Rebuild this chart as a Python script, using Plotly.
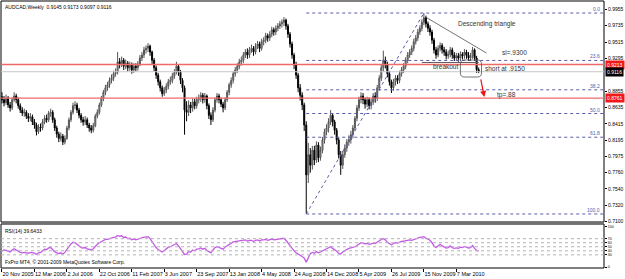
import plotly.graph_objects as go

# ---------------- data (weekly AUDCAD) ----------------
closes = [
    .874, .870, .876, .867, .863, .874, .879, .874, .866, .860,
    .856, .857, .852, .849, .851, .844, .840, .831, .837, .836,
    .844, .849, .847, .856, .857, .847, .836, .828, .822, .825,
    .817, .822, .836, .847, .857, .866, .867, .860, .853, .847,
    .844, .847, .840, .836, .833, .839, .852, .857, .867, .876,
    .884, .890, .894, .900, .903, .909, .911, .925, .922, .927,
    .919, .923, .917, .921, .914, .919, .917, .922, .930, .934,
    .941, .943, .946, .938, .927, .917, .907, .898, .890, .882,
    .887, .892, .898, .900, .906, .911, .919, .911, .900, .890,
    .860, .857, .867, .863, .871, .866, .874, .876, .880, .874,
    .879, .866, .853, .847, .860, .874, .879, .874, .868, .863,
    .874, .884, .894, .900, .909, .914, .919, .925, .927, .934,
    .938, .934, .941, .943, .938, .946, .949, .943, .952, .954,
    .960, .957, .962, .968, .965, .970, .973, .976, .978, .981,
    .973, .962, .949, .934, .921, .907, .890, .880, .867, .840,
    .773, .800, .786, .806, .793, .813, .796, .806, .820, .831,
    .836, .844, .853, .844, .833, .820, .800, .786, .800, .809,
    .817, .820, .827, .836, .849, .863, .874, .879, .874, .868,
    .874, .866, .871, .879, .876, .890, .903, .917, .927, .922,
    .909, .898, .890, .898, .903, .900, .909, .914, .919, .927,
    .934, .938, .943, .952, .957, .965, .970, .978, .984, .976,
    .970, .965, .954, .941, .934, .943, .947, .941, .938, .933,
    .935, .941, .934, .930, .933, .930, .935, .933, .938, .934,
    .930, .933, .941, .930, .9145, .9116,
]
highs = [
    .884, .879, .881, .879, .871, .877, .884, .882, .877, .869,
    .864, .862, .860, .856, .856, .854, .848, .843, .841, .842,
    .848, .853, .854, .859, .862, .860, .850, .839, .831, .830,
    .828, .826, .839, .850, .860, .870, .872, .870, .863, .856,
    .851, .852, .850, .843, .840, .843, .855, .861, .870, .879,
    .887, .894, .898, .904, .908, .913, .916, .938, .930, .932,
    .930, .928, .926, .925, .924, .923, .923, .926, .934, .938,
    .945, .947, .950, .948, .940, .930, .920, .910, .901, .893,
    .891, .896, .902, .905, .910, .915, .925, .922, .914, .903,
    .893, .872, .873, .871, .876, .875, .878, .881, .884, .883,
    .883, .881, .869, .857, .864, .877, .883, .882, .877, .871,
    .877, .887, .897, .904, .912, .918, .923, .929, .932, .938,
    .942, .943, .945, .948, .946, .950, .953, .952, .956, .958,
    .964, .963, .966, .972, .971, .974, .977, .980, .982, .985,
    .983, .976, .965, .952, .937, .925, .910, .895, .884, .870,
    .845, .816, .809, .812, .812, .818, .817, .811, .824, .835,
    .841, .849, .860, .856, .847, .836, .823, .805, .805, .814,
    .821, .826, .832, .840, .852, .867, .878, .884, .883, .877,
    .878, .877, .875, .883, .884, .894, .907, .921, .940, .932,
    .925, .912, .901, .902, .907, .907, .913, .918, .923, .931,
    .938, .942, .947, .956, .961, .969, .974, .982, .9905, .987,
    .979, .974, .968, .957, .945, .947, .951, .950, .945, .942,
    .940, .945, .944, .938, .937, .937, .939, .938, .942, .941,
    .938, .937, .945, .943, .933, .9173,
]
lows = [
    .869, .865, .867, .863, .858, .860, .871, .869, .862, .856,
    .852, .851, .848, .844, .845, .840, .835, .826, .828, .831,
    .833, .841, .843, .844, .851, .843, .832, .823, .817, .818,
    .813, .814, .820, .833, .844, .854, .861, .856, .849, .843,
    .839, .840, .836, .831, .829, .830, .837, .849, .854, .864,
    .872, .880, .886, .890, .896, .899, .905, .908, .916, .918,
    .914, .915, .912, .913, .909, .910, .912, .913, .919, .926,
    .930, .936, .938, .933, .922, .912, .902, .893, .885, .878,
    .879, .883, .888, .894, .896, .902, .908, .906, .895, .884,
    .827, .845, .852, .856, .858, .861, .862, .869, .871, .869,
    .870, .861, .848, .840, .844, .857, .870, .869, .864, .857,
    .860, .871, .880, .890, .896, .905, .910, .915, .920, .923,
    .930, .929, .930, .937, .933, .935, .942, .938, .940, .947,
    .950, .952, .953, .958, .960, .961, .966, .969, .971, .973,
    .968, .957, .944, .929, .915, .902, .884, .873, .860, .832,
    .7204, .762, .776, .780, .786, .789, .790, .792, .802, .815,
    .826, .830, .840, .838, .827, .814, .795, .773, .781, .796,
    .804, .812, .815, .822, .832, .845, .859, .869, .868, .862,
    .864, .861, .861, .867, .870, .872, .886, .899, .912, .916,
    .904, .893, .883, .886, .893, .895, .896, .905, .910, .915,
    .923, .930, .934, .939, .948, .953, .961, .966, .974, .971,
    .965, .960, .949, .936, .929, .931, .939, .936, .933, .928,
    .929, .931, .929, .926, .926, .925, .926, .928, .929, .929,
    .926, .926, .929, .926, .910, .9097,
]
first_open = 0.878
rsi = [
    40, 42, 41, 38, 37, 42, 45, 42, 38, 36,
    35, 36, 35, 34, 36, 35, 34, 31, 35, 36,
    40, 44, 43, 47, 48, 42, 38, 35, 33, 35,
    32, 36, 44, 52, 57, 61, 60, 56, 52, 48,
    47, 48, 45, 43, 42, 45, 52, 56, 60, 63,
    66, 68, 68, 70, 71, 73, 74, 78, 76, 77,
    73, 74, 70, 71, 67, 69, 67, 69, 71, 72,
    74, 74, 75, 70, 62, 55, 48, 43, 40, 37,
    41, 45, 49, 50, 53, 55, 58, 52, 45, 40,
    31, 32, 38, 37, 42, 40, 44, 45, 47, 44,
    46, 41, 37, 35, 42, 48, 50, 48, 46, 44,
    49, 53, 57, 59, 62, 63, 64, 65, 65, 66,
    67, 64, 66, 66, 63, 66, 67, 64, 67, 67,
    68, 66, 68, 69, 67, 68, 69, 70, 70, 71,
    66, 59, 52, 45, 40, 35, 31, 29, 26, 22,
    12, 25, 33, 36, 34, 38, 35, 37, 40, 43,
    44, 47, 50, 46, 43, 39, 34, 32, 37, 40,
    45, 46, 47, 48, 50, 53, 56, 60, 59, 57,
    58, 56, 57, 59, 58, 62, 65, 68, 70, 67,
    61, 57, 55, 58, 60, 59, 62, 63, 64, 65,
    66, 67, 66, 68, 69, 72, 73, 74, 75, 71,
    68, 66, 60, 52, 48, 53, 56, 52, 50, 47,
    48, 52, 48, 46, 47, 46, 49, 48, 51, 49,
    47, 48, 53, 46, 41, 39.6433,
]
tick_dates = ["20 Nov 2005", "12 Mar 2006", "2 Jul 2006", "22 Oct 2006", "11 Feb 2007",
              "3 Jun 2007", "23 Sep 2007", "13 Jan 2008", "4 May 2008", "24 Aug 2008",
              "14 Dec 2008", "5 Apr 2009", "26 Jul 2009", "15 Nov 2009", "7 Mar 2010"]
weeks_per_label = 16
price_ticks = [0.9955, 0.9735, 0.9515, 0.9295, 0.8855, 0.8635, 0.8415,
               0.8195, 0.7975, 0.7760, 0.7540, 0.7320, 0.7100]
rsi_ticks = [0, 30, 40, 50, 60, 70, 100]
rsi_levels = [30, 40, 50, 60, 70]
fib_ratios = [0.0, 0.236, 0.382, 0.5, 0.618, 1.0]
fib_labels = ["0.0", "23.6", "38.2", "50.0", "61.8", "100.0"]
red_levels = [0.9213, 0.8761]
bar = dict(o=0.9145, h=0.9173, l=0.9097, c=0.9116)

weeks = list(range(len(closes)))
opens = [first_open] + closes[:-1]
last_close = closes[-1]
fib_high = max(highs); hi_idx = highs.index(fib_high)
fib_low = min(lows); lo_idx = lows.index(fib_low)

X0, X1 = -0.49, 296.8
FONT = "Liberation Sans"
FIBC = "#5a5aa8"
REDC = "#f06a6a"

fig = go.Figure()
fig.add_trace(go.Candlestick(
    x=weeks, open=opens, high=highs, low=lows, close=closes,
    increasing=dict(line=dict(color="#555555", width=1), fillcolor="#a8a8a8"),
    decreasing=dict(line=dict(color="#000000", width=1), fillcolor="#000000"),
    whiskerwidth=0, xaxis="x", yaxis="y", showlegend=False, hoverinfo="skip"))
fig.add_trace(go.Scatter(x=weeks, y=rsi, mode="lines", xaxis="x", yaxis="y2",
                         line=dict(color="#c35ae6", width=1.3), showlegend=False,
                         hoverinfo="skip"))

shapes = []
# panel frames
shapes.append(dict(type="rect", xref="paper", yref="y domain", x0=0, x1=1, y0=0, y1=1,
                   line=dict(color="#000000", width=1)))
shapes.append(dict(type="rect", xref="paper", yref="y2 domain", x0=0, x1=1, y0=0, y1=1,
                   line=dict(color="#000000", width=1)))
shapes.append(dict(type="line", xref="paper", yref="paper", x0=0, x1=1, y0=0.1685, y1=0.1685,
                   line=dict(color="#707070", width=2.5)))
# red horizontal lines and current price line
for lv in red_levels:
    shapes.append(dict(type="line", xref="paper", yref="y", x0=0, x1=1, y0=lv, y1=lv,
                       line=dict(color=REDC, width=1.3)))
shapes.append(dict(type="line", xref="paper", yref="y", x0=0, x1=1, y0=last_close, y1=last_close,
                   line=dict(color="#c8c8c8", width=1)))
# fibonacci
for r in fib_ratios:
    lv = fib_high - r * (fib_high - fib_low)
    shapes.append(dict(type="line", xref="x", yref="y", x0=lo_idx, x1=X1, y0=lv, y1=lv,
                       line=dict(color=FIBC, width=1, dash="dot")))
shapes.append(dict(type="line", xref="x", yref="y", x0=lo_idx, x1=hi_idx, y0=fib_low, y1=fib_high,
                   line=dict(color=FIBC, width=1, dash="dot")))
# descending triangle line and breakout line
shapes.append(dict(type="line", xref="x", yref="y", x0=208.8, x1=238.8, y0=0.9852, y1=0.9368,
                   line=dict(color="#505050", width=0.8)))
shapes.append(dict(type="line", xref="x", yref="y", x0=207, x1=235, y0=0.924, y1=0.924,
                   line=dict(color="#606060", width=1.2)))
# rounded box
bx0, bx1, by0, by1, rx, ry = 226, 236.4, 0.9045, 0.9274, 2.0, 0.0054
path = (f"M {bx0+rx},{by1} L {bx1-rx},{by1} Q {bx1},{by1} {bx1},{by1-ry} "
        f"L {bx1},{by0+ry} Q {bx1},{by0} {bx1-rx},{by0} L {bx0+rx},{by0} "
        f"Q {bx0},{by0} {bx0},{by0+ry} L {bx0},{by1-ry} Q {bx0},{by1} {bx0+rx},{by1} Z")
shapes.append(dict(type="path", xref="x", yref="y", path=path, line=dict(color="#505050", width=0.8)))
# RSI levels
for lv in rsi_levels:
    shapes.append(dict(type="line", xref="paper", yref="y2", x0=0, x1=1, y0=lv, y1=lv,
                       line=dict(color="#b4b4b4", width=1, dash="dot")))

ann = []
def txt(x, y, s, size=6.5, color="#333333", xref="x", yref="y", xanchor="left", yanchor="middle", **kw):
    ann.append(dict(x=x, y=y, xref=xref, yref=yref, text=s, showarrow=False, xanchor=xanchor,
                    yanchor=yanchor, font=dict(family=FONT, size=size, color=color), **kw))

txt(0.004, 1, f"AUDCAD,Weekly  {bar['o']:.4f} {bar['h']:.4f} {bar['l']:.4f} {bar['c']:.4f}",
    size=5, color="#000000", xref="paper", yref="y domain", yanchor="top", yshift=-1)
txt(0.004, 1, f"RSI(14) {rsi[-1]:.4f}", size=5, color="#000000", xref="paper", yref="y2 domain",
    yanchor="top", yshift=-2)
txt(0.004, 0, "FxPro MT4, © 2001-2009 MetaQuotes Software Corp.", size=5, color="#000000",
    xref="paper", yref="y2 domain", yanchor="bottom", yshift=1)
for r, lab in zip(fib_ratios, fib_labels):
    lv = fib_high - r * (fib_high - fib_low)
    txt(X1 - 1, lv, lab, size=5, color=FIBC, xanchor="right", yanchor="bottom", yshift=-1)
txt(224, 0.9757, "Descending triangle")
txt(245.7, 0.9368, "sl=.9300")
txt(211.3, 0.918, "breakout")
txt(236.9, 0.9166, "short at .9150")
txt(243.2, 0.8803, "tp=.88")
ann.append(dict(x=237.8, y=0.8776, ax=235.9, ay=0.9032, xref="x", yref="y", axref="x", ayref="y",
                text="", showarrow=True, arrowhead=2, arrowsize=1, arrowwidth=1.2, arrowcolor="#ee1111"))
# axis price labels
for lv, bg in [(red_levels[0], "#f01818"), (red_levels[1], "#f01818"), (last_close, "#000000")]:
    ann.append(dict(x=1, y=lv, xref="paper", yref="y", text=f"{lv:.4f}", showarrow=False,
                    xanchor="left", yanchor="middle", xshift=1, bgcolor=bg, borderpad=1,
                    font=dict(family=FONT, size=5, color="#ffffff")))

axfont = dict(family=FONT, size=5, color="#000000")
fig.update_layout(
    width=625, height=279, margin=dict(l=1, r=19, t=1, b=11),
    paper_bgcolor="white", plot_bgcolor="white", showlegend=False,
    shapes=shapes, annotations=ann,
    xaxis=dict(range=[X0, X1], anchor="y2", rangeslider=dict(visible=False), showgrid=False,
               zeroline=False, showline=False, tickangle=0,
               tickvals=[i * weeks_per_label for i in range(len(tick_dates))], ticktext=tick_dates,
               ticks="outside", ticklen=3, tickcolor="#000000", ticklabelposition="outside right",
               tickfont=dict(family=FONT, size=5.5, color="#000000")),
    yaxis=dict(domain=[0.17228, 1], range=[0.70962, 1.00666], side="right", anchor="x",
               tickvals=price_ticks, ticktext=[f"{v:.4f}" for v in price_ticks],
               ticks="outside", ticklen=2, tickcolor="#000000", showgrid=False, zeroline=False,
               tickfont=axfont),
    yaxis2=dict(domain=[0, 0.16479], range=[-2.47, 106.2], side="right", anchor="x",
                tickvals=rsi_ticks, ticktext=[str(v) for v in rsi_ticks],
                ticks="outside", ticklen=2, tickcolor="#000000", showgrid=False, zeroline=False,
                tickfont=dict(family=FONT, size=3.6, color="#000000")),
)
fig.write_html("out.html")
